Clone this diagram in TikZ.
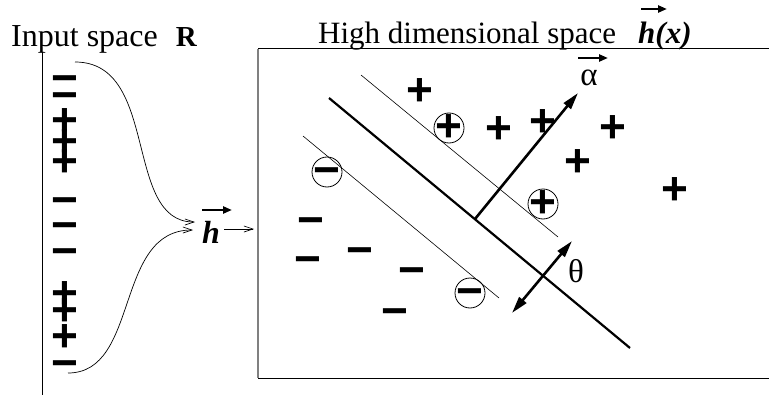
\documentclass[tikz,border=0pt]{standalone}
\usepackage{fontspec}
\setmainfont{Liberation Serif}
\newfontfamily\signfont{Liberation Sans}
\usetikzlibrary{arrows.meta,calc}
\begin{document}
\begin{tikzpicture}[x=1pt,y=-1pt,
  sgn/.style={font=\signfont\bfseries\fontsize{46}{46}\selectfont, inner sep=0pt, text height=27pt, text depth=-5.2pt},
  ttl/.style={font=\fontsize{31}{31}\selectfont, inner sep=0pt, anchor=base west},
  greek/.style={font=\fontsize{33}{33}\selectfont, inner sep=0pt},
  vecarr/.style={line width=2.4pt, -{Triangle[length=9pt,width=7pt]}},
  thinarr/.style={line width=0.7pt, -{Straight Barb[length=9pt,width=6pt]}},
  bigarr/.style={line width=2.6pt, -{Triangle[length=17pt,width=9pt]}},
  dblarr/.style={line width=2.6pt, {Triangle[length=17pt,width=9pt]}-{Triangle[length=17pt,width=9pt]}},
  margin/.style={line width=0.6pt},
  ring/.style={line width=0.8pt}]
\useasboundingbox (0,0) rectangle (769,396);

% titles
\node[ttl, font=\fontsize{32}{32}\selectfont] (tin) at (11,47) {Input space\hspace{18pt}{\fontsize{29}{29}\selectfont\textbf{R}}};
\node[ttl] (thd) at (318,44) {High dimensional space};
\node[ttl, font=\fontsize{31}{31}\selectfont\bfseries\itshape] (hx) at (638,44) {h(x)};
\draw[vecarr] ($(hx.base west)+(3,-35)$) -- ++(26,0);

% input axis
\coordinate (ax0) at (42,52);
\coordinate (ax1) at (42,395);
\draw[line width=0.8pt] (ax0) -- (ax1);

% input signs
\foreach \yy [count=\i] in {80,97,202,227,253,365}
  \node[sgn] (lm\i) at (65,\yy) {−};
\foreach \yy [count=\i] in {122,143,163,295,312,338}
  \node[sgn] (lp\i) at (65,\yy) {+};

% box
\node[minimum width=530pt, minimum height=329pt, anchor=north west, inner sep=0pt, outer sep=0pt] (box) at (258,49) {};
\draw[line width=1pt] (box.north west) -- (box.north east);
\draw[line width=1pt] (box.south west) -- (box.south east);
\draw[gray, line width=2pt] (box.north west) -- (box.south west);

% mapping h
\node[inner sep=0pt, anchor=base west, font=\fontsize{32}{32}\selectfont\bfseries\itshape] (hh) at (202,243) {h};
\draw[vecarr] ($(hh.base west)+(0,-33)$) -- ++(30,0);
\coordinate (u0) at (75,62);
\coordinate (l0) at (68,373);
\draw[thinarr] (u0) .. controls (160,62) and (123,222) .. ($(hh.base west)+(-7,-21)$);
\draw[thinarr] (l0) .. controls (140,373) and (114,230) .. ($(hh.base west)+(-9,-13)$);
\coordinate (hin) at ($(hh.base east)+(4,-14)$);
\draw[thinarr, shorten >=4pt] (hin) -- (box.west |- hin);

% signs in high dimensional space
\foreach \xx/\yy [count=\i] in {420/92, 499/130, 543/123, 613/129, 578/163, 675/191}
  \node[sgn] (hp\i) at (\xx,\yy) {+};
\foreach \xx/\yy [count=\i] in {311/222, 308/261, 360/252, 412/272, 395/313}
  \node[sgn] (hm\i) at (\xx,\yy) {−};
\foreach \xx/\yy [count=\i] in {449/128, 543/204}
  {\node[sgn] (cp\i) at (\xx,\yy) {+};
   \draw[ring] (cp\i) circle[radius=15];}
\foreach \xx/\yy [count=\i] in {327/172, 470/293}
  {\node[sgn] (cm\i) at (\xx,\yy) {−};
   \draw[ring] (cm\i) circle[radius=15];}

% margins and separator
\coordinate (m1a) at (361,75);  \coordinate (m1b) at (558,237);
\coordinate (sa) at (329,98);   \coordinate (sb) at (630,348);
\coordinate (m2a) at (303,136); \coordinate (m2b) at (499,298);
\draw[margin] (m1a) -- (m1b);
\draw[margin] (m2a) -- (m2b);
\draw[line width=2.2pt] (sa) -- (sb);

% alpha vector
\coordinate (afoot) at (475,219);
\coordinate (atip) at (578,93);
\draw[bigarr] (afoot) -- (atip);
\node[greek] (alpha) at (589,78) {α};
\draw[vecarr] ($(alpha.center)+(-11,-20)$) -- ++(30,0);

% theta
\coordinate (ta) at (512,313);
\coordinate (tb) at (572,241);
\draw[dblarr] (ta) -- (tb);
\node[greek] (theta) at (576,271) {θ};
\end{tikzpicture}
\end{document}
